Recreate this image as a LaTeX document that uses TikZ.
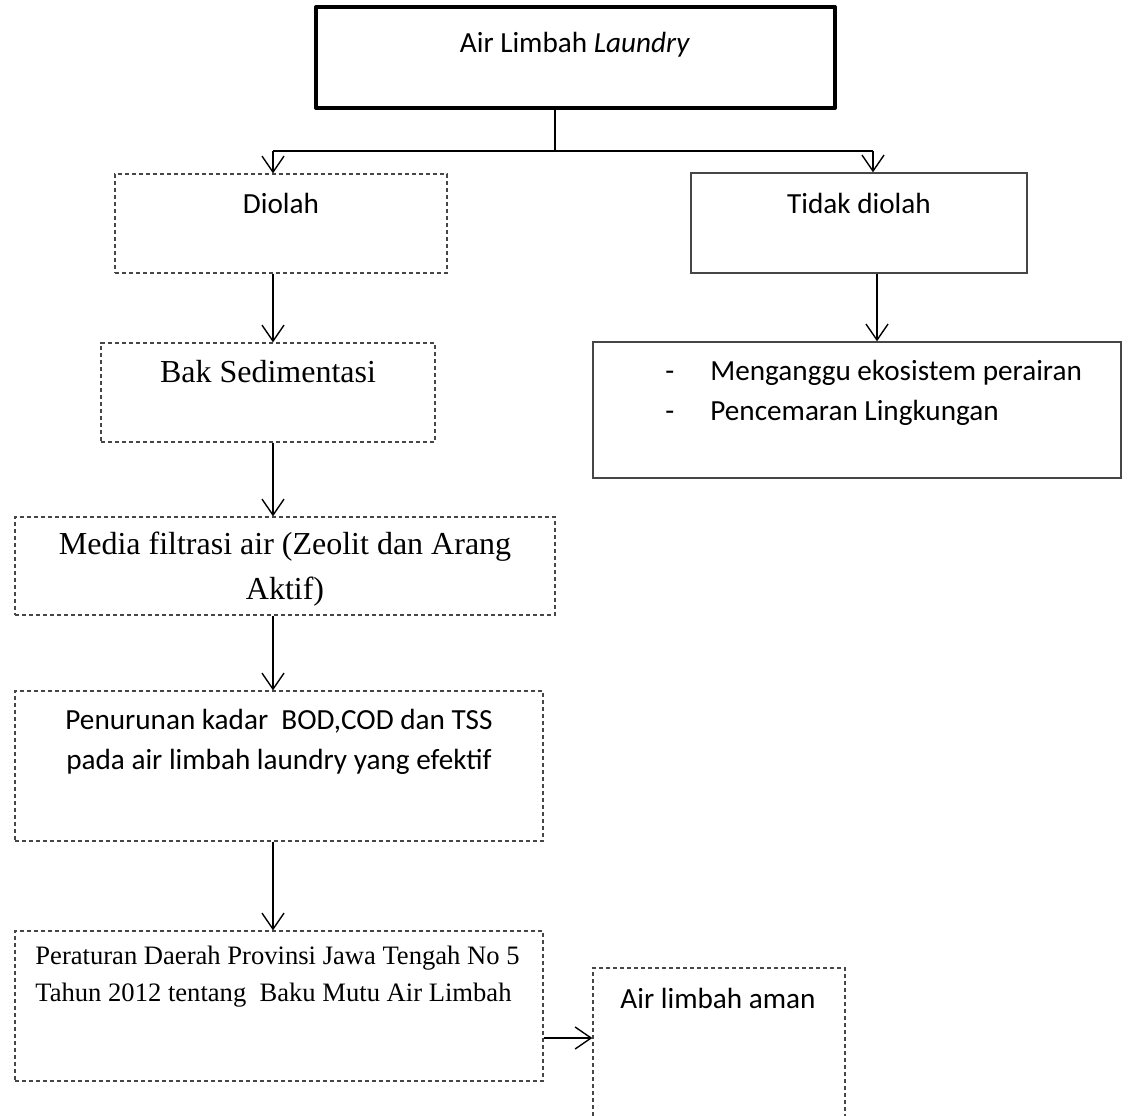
\documentclass[tikz,border=0pt]{standalone}
\usepackage{fontspec}
\setmainfont{Carlito}
\newfontfamily\timesfont{Liberation Serif}
\usetikzlibrary{arrows.meta}
\definecolor{G}{RGB}{70, 70, 70}

\tikzset{
  utama/.style={draw=black, line width=2pt, line join=round, inner sep=0pt},
  proses/.style={draw=G, line width=0.65pt, dash pattern=on 2.2pt off 1.3pt, inner sep=0pt},
  hasil/.style={draw=G, line width=0.7pt, inner sep=0pt},
  garis/.style={line width=0.7pt},
  panah/.style={-{Straight Barb[length=8pt,width=11pt]}, line width=0.7pt},
  teks/.style={font=\fontsize{14.6}{20}\selectfont, inner sep=0pt},
  teksr/.style={font=\timesfont\fontsize{16}{22.5}\selectfont, inner sep=0pt}
}

\begin{document}
\begin{tikzpicture}[x=0.5pt, y=-0.5pt]
	\clip (0,0) rectangle (1130,1115);

	%Kotak Air Limbah
	\node[utama, minimum width=259.5pt, minimum height=50.5pt] (limbah) at (575.5,57.5) {};
	\node[teks] (tlimbah) at (575,45) {Air Limbah \textit{Laundry}};

	%Cabang
	\coordinate (cabang) at (555,151);
	\coordinate (cabangL) at (273,151);
	\coordinate (cabangR) at (873,151);

	%Kotak Diolah dan Tidak diolah
	\node[proses, minimum width=166pt, minimum height=49.5pt] (diolah) at (281,223.5) {};
	\node[teks] (tdiolah) at (281,203) {Diolah};
	\node[hasil, minimum width=168pt, minimum height=50pt] (tidak) at (859,223) {};
	\node[teks] (ttidak) at (859,203) {Tidak diolah};

	%Kotak dampak
	\node[hasil, minimum width=264pt, minimum height=68pt] (dampak) at (857,410) {};
	\node[teks, anchor=west, align=left] (tdampak) at (665,392.5)
		{\makebox[22.5pt][l]{-}Menganggu ekosistem perairan\\
		 \makebox[22.5pt][l]{-}Pencemaran Lingkungan};

	%Proses pengolahan
	\node[proses, minimum width=167pt, minimum height=49.5pt] (bak) at (268,392.5) {};
	\node[teksr] (tbak) at (268,372) {Bak Sedimentasi};
	\node[proses, minimum width=270pt, minimum height=49pt] (media) at (285,566) {};
	\node[teksr, align=center] (tmedia) at (285,569.5)
		{Media filtrasi air (Zeolit dan Arang\\Aktif)};
	\node[proses, minimum width=264pt, minimum height=75pt] (turun) at (279,766) {};
	\node[teks, align=center] (tturun) at (279,742)
		{Penurunan kadar\ \ BOD,COD dan TSS\\pada air limbah laundry yang efektif};
	\node[proses, minimum width=264pt, minimum height=75pt] (perda) at (279,1006) {};
	\node[inner sep=0pt, anchor=west, align=left, font=\timesfont\fontsize{13.3}{18.5}\selectfont] (tperda) at (35,976.5)
		{Peraturan Daerah Provinsi Jawa Tengah No 5\\Tahun 2012 tentang\ \ Baku Mutu Air Limbah};

	%Kotak Air limbah aman (terpotong di bawah)
	\node[proses, minimum width=126pt, minimum height=96pt] (aman) at (719,1064) {};
	\node[teks] (taman) at (718,998) {Air limbah aman};

	%Garis dan panah
	\draw[garis] (limbah.south -| cabang) -- (cabang);
	\draw[garis] (cabangL) -- (cabangR);
	\draw[panah] (cabangL) -- (cabangL |- diolah.north);
	\draw[panah] (cabangR) -- (cabangR |- tidak.north);
	\draw[panah] ([xshift=9pt]tidak.south) -- ([xshift=9pt]tidak.south |- dampak.north);
	\draw[panah] (diolah.south -| cabangL) -- (bak.north -| cabangL);
	\draw[panah] (bak.south -| cabangL) -- (media.north -| cabangL);
	\draw[panah] (media.south -| cabangL) -- (turun.north -| cabangL);
	\draw[panah] (turun.south -| cabangL) -- (perda.north -| cabangL);
	\draw[panah] ([yshift=-16pt]perda.east) -- ([yshift=-16pt]perda.east -| aman.west);
\end{tikzpicture}
\end{document}
